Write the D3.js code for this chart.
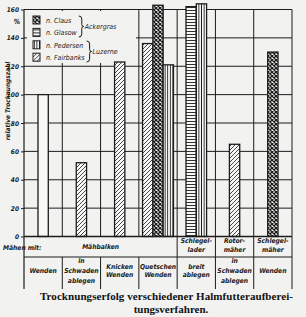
<!DOCTYPE html>
<html>
<head>
<meta charset="utf-8">
<script src="https://cdn.jsdelivr.net/npm/d3@7"></script>
<style>
  body { margin: 0; background: #f2f2f0; }
  svg { display: block; }
  .lbl { font-family: "Liberation Sans Narrow", "DejaVu Sans Condensed", sans-serif; font-style: italic; font-weight: bold; fill: #1a1a1a; }
</style>
</head>
<body>
<div id="chart"></div>
<script>
// groups along the x axis (second table row) and the mower in the first row
const groups = ["Wenden", "in|Schwaden|ablegen", "Knicken|Wenden", "Quetschen|Wenden", "breit|ablegen", "in|Schwaden|ablegen", "Wenden"];
const mowers = [
    { label: "Mähbalken", from: 0, to: 3 },
    { label: "Schlegel-|lader", from: 4, to: 4 },
    { label: "Rotor-|mäher", from: 5, to: 5 },
    { label: "Schlegel-|mäher", from: 6, to: 6 }
];

// relative drying figure, one value per group (null = no bar)
const reference = [100, null, null, null, null, null, null];
const fairbanks = [null, 52, 123, 136, null, 65, null];
const claus     = [null, null, null, 163, null, null, 130];
const glasow    = [null, null, null, null, 162, null, null];
const pedersen  = [null, null, null, 121, 164, null, null];

const yTicks = [0, 20, 40, 60, 80, 100, 120, 140, 160];

const series = [
    { key: "ref", values: reference, fill: "#f7f7f5" },
    { key: "fairbanks", values: fairbanks, fill: "url(#p-diag)" },
    { key: "claus", values: claus, fill: "url(#p-cross)" },
    { key: "glasow", values: glasow, fill: "url(#p-horiz)" },
    { key: "pedersen", values: pedersen, fill: "url(#p-vert)" }
];

var W = 306, H = 317;
var pLeft = 24, pRight = 292, pBottom = 236.5, pTop = 9.5;
var ink = "#1c1c1c";

var svg = d3.select("#chart").append("svg")
    .attr("width", W).attr("height", H);

//Patterns
var defs = svg.append("defs");
function pat(id, w, h, draw) {
    var p = defs.append("pattern").attr("id", id)
        .attr("patternUnits", "userSpaceOnUse")
        .attr("width", w).attr("height", h);
    p.append("rect").attr("width", w).attr("height", h).attr("fill", "#f7f7f5");
    draw(p);
}
pat("p-diag", 4, 4, p => p.append("path")
    .attr("d", "M-1,1 l2,-2 M0,4 l4,-4 M3,5 l2,-2")
    .attr("stroke", ink).attr("stroke-width", 0.8));
pat("p-cross", 4, 4, p => p.append("path")
    .attr("d", "M0,0 L4,4 M4,0 L0,4")
    .attr("stroke", ink).attr("stroke-width", 1.3));
pat("p-horiz", 3, 3, p => p.append("path")
    .attr("d", "M0,1.5 H3")
    .attr("stroke", ink).attr("stroke-width", 0.9));
pat("p-vert", 2.6, 3, p => p.append("path")
    .attr("d", "M1.3,0 V3")
    .attr("stroke", ink).attr("stroke-width", 0.9));

//Scales
var x = d3.scaleBand().domain(d3.range(groups.length)).range([pLeft, pRight]);
var y = d3.scaleLinear().domain([0, 160]).range([pBottom, pTop]);
var barW = 10.3;

//Grid
var grid = svg.append("g").attr("stroke", ink).attr("stroke-width", 1);
grid.selectAll(".h").data(yTicks.slice(1)).enter().append("line")
    .attr("x1", pLeft).attr("x2", pRight)
    .attr("y1", d => y(d)).attr("y2", d => y(d));
grid.selectAll(".v").data(d3.range(1, groups.length + 1)).enter().append("line")
    .attr("x1", d => x(d - 1) + x.bandwidth()).attr("x2", d => x(d - 1) + x.bandwidth())
    .attr("y1", y(0)).attr("y2", y(160));

//Legend background hides the grid
svg.append("rect").attr("x", 27).attr("y", 11).attr("width", 109).attr("height", 52)
    .attr("fill", "#f2f2f0");

//Bars
var barData = [];
groups.forEach((g, i) => {
    var present = series.filter(s => s.values[i] != null);
    var c = x(i) + x.bandwidth() / 2;
    var inner = d3.scaleBand().domain(present.map(s => s.key))
        .range([c - present.length * barW / 2, c + present.length * barW / 2]);
    present.forEach(s => barData.push({ x: inner(s.key), w: inner.bandwidth(), v: s.values[i], fill: s.fill }));
});
svg.selectAll(".bar").data(barData).enter().append("rect")
    .attr("x", d => d.x).attr("width", d => d.w)
    .attr("y", d => y(d.v)).attr("height", d => y(0) - y(d.v))
    .attr("fill", d => d.fill)
    .attr("stroke", ink).attr("stroke-width", 1.3);

//Axes
svg.append("line").attr("x1", pLeft).attr("x2", pRight).attr("y1", y(0)).attr("y2", y(0))
    .attr("stroke", ink).attr("stroke-width", 1.4);
svg.append("line").attr("x1", pLeft).attr("x2", pLeft).attr("y1", y(160)).attr("y2", 289)
    .attr("stroke", ink).attr("stroke-width", 1.2);

var yAxis = svg.append("g")
    .attr("transform", "translate(" + pLeft + ",0)")
    .call(d3.axisLeft(y).tickValues(yTicks).tickSize(3).tickPadding(2));
yAxis.select(".domain").remove();
yAxis.selectAll("line").attr("stroke", ink);
yAxis.selectAll("text").attr("class", "lbl").style("font-size", "6.5px");

svg.append("text").attr("class", "lbl").attr("x", 17).attr("y", 24)
    .attr("text-anchor", "middle").style("font-size", "7px").text("%");

//Y-axis label
svg.append("text").attr("class", "lbl")
    .attr("transform", "translate(10,101) rotate(-90)")
    .attr("text-anchor", "middle").style("font-size", "6.5px")
    .text("relative Trocknungszahl");

//Legend
var legendItems = [
    { name: "n. Claus", fill: "url(#p-cross)" },
    { name: "n. Glasow", fill: "url(#p-horiz)" },
    { name: "n. Pedersen", fill: "url(#p-vert)" },
    { name: "n. Fairbanks", fill: "url(#p-diag)" }
];
var leg = svg.selectAll(".leg").data(legendItems).enter().append("g")
    .attr("transform", (d, i) => "translate(33," + (16 + i * 12.4) + ")");
leg.append("rect").attr("width", 7).attr("height", 8)
    .attr("fill", d => d.fill).attr("stroke", ink).attr("stroke-width", 1);
var legText = leg.append("text").attr("class", "lbl").attr("x", 13).attr("y", 7)
    .style("font-size", "7px").style("font-weight", "normal").text(d => d.name);
var widths = legText.nodes().map(n => n.getComputedTextLength());

function brace(x0, y0, y1) {
    var m = (y0 + y1) / 2;
    return "M" + x0 + "," + y0 + " q3,0 3,3 v" + (m - y0 - 5) + " q0,2 2,2 q-2,0 -2,2 v" + (y1 - m - 5) + " q0,3 -3,3";
}
var b1 = 33 + 13 + Math.max(widths[0], widths[1]) + 2;
var b2 = 33 + 13 + Math.max(widths[2], widths[3]) + 2;
svg.append("path").attr("d", brace(b1, 16, 37)).attr("fill", "none").attr("stroke", ink).attr("stroke-width", 1);
svg.append("path").attr("d", brace(b2, 41, 62)).attr("fill", "none").attr("stroke", ink).attr("stroke-width", 1);
svg.append("text").attr("class", "lbl").attr("x", b1 + 6).attr("y", 29)
    .style("font-size", "7px").style("font-weight", "normal").text("Ackergras");
svg.append("text").attr("class", "lbl").attr("x", b2 + 6).attr("y", 54)
    .style("font-size", "7px").style("font-weight", "normal").text("Luzerne");

//Table below the chart
var table = svg.append("g").attr("stroke", ink).attr("stroke-width", 1);
table.append("line").attr("x1", pLeft).attr("x2", pRight).attr("y1", 257).attr("y2", 257);
d3.range(1, groups.length + 1).forEach(i => {
    var xx = x(i - 1) + x.bandwidth();
    table.append("line").attr("x1", xx).attr("x2", xx).attr("y1", 257).attr("y2", 289);
});
mowers.forEach(m => {
    var xx = x(m.to) + x.bandwidth();
    table.append("line").attr("x1", xx).attr("x2", xx).attr("y1", y(0)).attr("y2", 257);
});

function multiLine(cx, cy, str, lh) {
    var lines = str.split("|");
    var t = svg.append("text").attr("class", "lbl").attr("text-anchor", "middle")
        .style("font-size", "6.7px");
    lines.forEach((l, i) => {
        t.append("tspan").attr("x", cx)
            .attr("y", cy + (i - (lines.length - 1) / 2) * lh + 2.4)
            .text(l);
    });
}
svg.append("text").attr("class", "lbl").attr("x", 3).attr("y", 250)
    .style("font-size", "6.7px").text("Mähen mit:");
mowers.forEach(m => {
    var cx = (x(m.from) + x(m.to) + x.bandwidth()) / 2;
    multiLine(cx, m.from === m.to ? 245 : 246.5, m.label, 8.5);
});
groups.forEach((g, i) => {
    var n = g.split("|").length;
    multiLine(x(i) + x.bandwidth() / 2, 270.5, g, n === 3 ? 9.8 : 7.8);
});

//Caption
svg.append("text").attr("x", 40).attr("y", 300)
    .attr("textLength", 253).attr("lengthAdjust", "spacing")
    .style("font-family", "'Liberation Serif', 'DejaVu Serif', serif")
    .style("font-weight", "bold").style("font-size", "11px").attr("fill", "#111")
    .text("Trocknungserfolg verschiedener Halmfutteraufberei-");
svg.append("text").attr("x", 171).attr("y", 313).attr("text-anchor", "middle")
    .style("font-family", "'Liberation Serif', 'DejaVu Serif', serif")
    .style("font-weight", "bold").style("font-size", "11px").attr("fill", "#111")
    .text("tungsverfahren.");
</script>
</body>
</html>
